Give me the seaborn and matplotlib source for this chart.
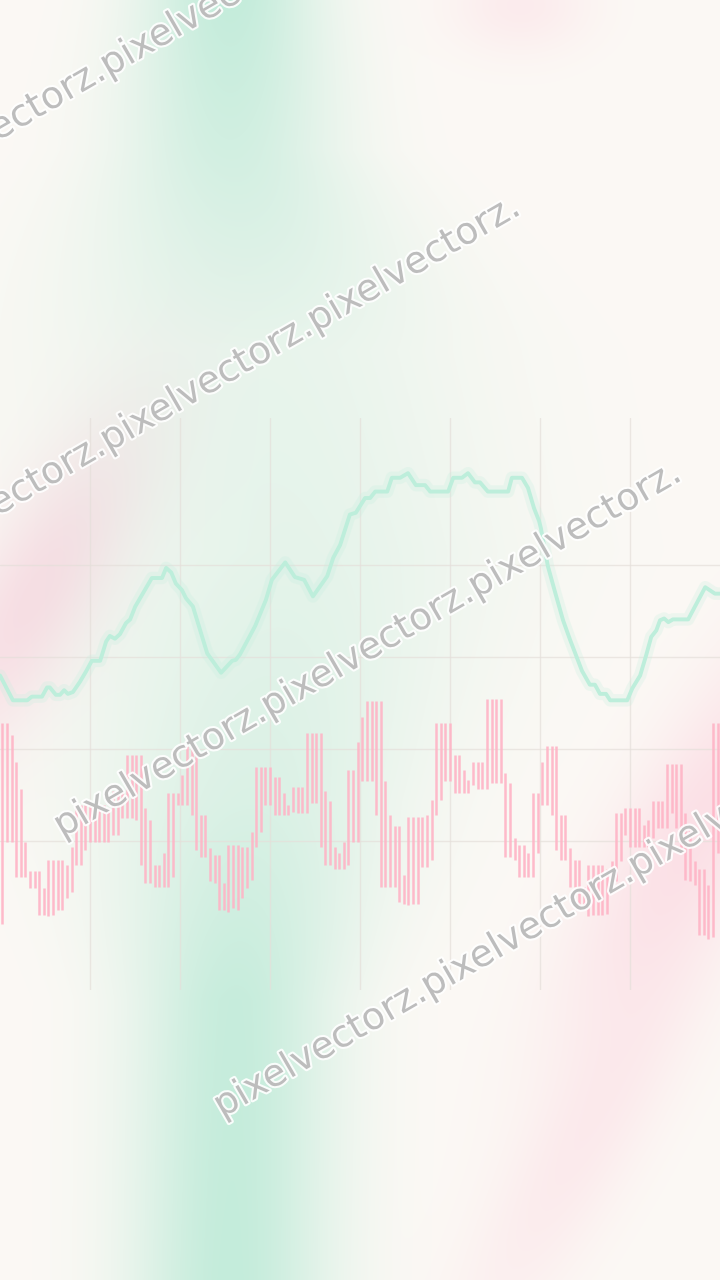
import numpy as np
import matplotlib
matplotlib.use('Agg')
import matplotlib.pyplot as plt
import matplotlib.patheffects as pe
import seaborn as sns

# candle ranges (156 candles)
candle_high = [32.8, 32.8, 31.5, 28.6, 25.7, 19.9, 16.7, 16.7, 16.7, 14.9,
               17.9, 17.9, 17.9, 17.9, 17.4, 19.4, 23.9, 23.9, 23.9, 23.9,
               23.9, 23.9, 23.9, 23.6, 25.4, 25.4, 25.4, 29.4, 29.4, 29.4,
               29.4, 23.6, 22.3, 17.4, 17.4, 18.7, 25.2, 25.2, 25.2,
               27.2, 30.3, 30.3, 30.3, 22.8, 22.8, 19.2, 18.5, 18.5, 15.4,
               19.6, 19.6, 19.6, 19.4, 19.4, 21.0, 28.1, 28.1, 28.1, 28.1,
               27.0, 27.0, 25.2, 23.9, 25.9, 25.9, 25.9, 31.7, 31.7, 31.7,
               31.7, 25.4, 24.3, 19.4, 18.7, 19.9, 27.7, 27.7, 30.8,
               33.5, 35.2, 35.2, 35.2, 35.2, 26.5, 22.8, 21.6, 21.6, 16.3,
               22.6, 22.6, 22.6, 22.6, 22.8, 24.5, 32.8, 32.8, 32.8, 32.8,
               29.4, 29.4, 27.7, 26.6, 28.6, 28.6, 28.6, 35.4, 35.4, 35.4,
               35.4, 27.4, 26.3, 20.3, 19.6, 19.6, 18.7, 25.2, 25.2,
               28.6, 30.3, 30.3, 30.3, 22.8, 22.8, 19.2, 17.9, 17.9, 15.0,
               17.4, 17.4, 17.4, 17.4, 17.0, 17.8, 23.0, 23.0, 23.6, 23.6,
               23.6, 23.6, 21.7, 22.3, 24.3, 24.3, 24.3, 28.4, 28.4, 28.4,
               28.4, 23.0, 21.7, 17.8, 17.0, 17.0, 15.2, 32.8, 32.8]
candle_low = [11.0, 19.9, 19.9, 16.1, 16.1, 16.1, 14.9, 14.9, 12.0, 12.0,
              11.8, 12.0, 12.5, 12.5, 13.8, 14.5, 17.4, 17.4, 19.0, 19.9,
              19.9, 19.9, 19.9, 19.9, 20.7, 20.7, 22.5, 22.5, 22.5, 22.3,
              17.4, 15.4, 15.4, 15.0, 15.0, 15.0, 15.0, 16.1, 23.9,
              23.9, 23.9, 22.8, 19.0, 18.3, 18.3, 15.6, 15.4, 12.5, 12.5,
              12.3, 12.7, 12.5, 13.8, 14.9, 15.8, 19.4, 21.0, 23.9, 23.9,
              22.8, 22.8, 22.8, 22.8, 23.2, 23.0, 23.0, 23.0, 24.1, 24.1,
              19.4, 17.4, 17.4, 17.0, 17.0, 17.0, 17.4, 19.9, 19.9,
              26.5, 26.5, 26.5, 22.8, 15.0, 15.0, 15.0, 15.0, 13.4, 13.2,
              13.0, 13.2, 13.2, 17.2, 17.2, 17.9, 22.8, 24.5, 26.5, 26.5,
              25.2, 25.2, 25.2, 25.2, 26.1, 25.7, 25.7, 25.7, 26.3, 26.3,
              26.3, 18.3, 18.3, 17.9, 16.1, 16.1, 16.1, 16.1, 18.7,
              23.9, 23.9, 22.8, 19.0, 17.9, 17.9, 15.0, 15.0, 12.7, 12.7,
              11.8, 12.0, 12.0, 12.0, 12.1, 15.6, 15.6, 17.8, 20.7, 19.4,
              19.4, 19.4, 19.4, 19.4, 20.3, 21.4, 21.4, 21.4, 23.0, 21.4,
              18.7, 15.8, 15.6, 15.2, 9.8, 9.8, 9.4, 9.6, 18.7]

# smoothed line
line_t = [0.0, 2.8, 5.9, 6.9, 9.1, 10.2, 10.8, 12.1, 13.0, 13.9, 14.7, 15.8,
          17.3, 18.6, 19.9, 21.7, 23.0, 23.8, 24.9, 26.0, 27.3, 28.2, 29.3,
          32.9, 35.1, 36.0, 37.1, 38.1, 39.4, 40.3, 41.8, 44.9, 47.9, 50.3,
          51.1, 52.0, 53.5, 55.3, 57.6, 58.9, 61.8, 63.9, 65.9, 67.8, 70.9,
          72.2, 73.7, 75.8, 77.1, 79.1, 80.2, 81.3, 83.9, 84.9, 86.7, 88.4,
          90.1, 92.1, 93.2, 97.1, 98.2, 100.1, 101.4, 102.9, 104.0, 105.7,
          110.1, 110.9, 113.1, 114.4, 115.7, 116.8, 117.2, 118.7, 120.3,
          122.0, 123.5, 126.1, 127.8, 128.9, 130.0, 131.3, 132.2, 135.9,
          137.0, 138.7, 140.0, 141.1, 142.2, 143.0, 143.9, 144.8, 145.8,
          149.1, 151.0, 152.8, 154.9, 156.0]
line_v = [38.0, 35.3, 35.3, 35.7, 35.7, 36.7, 36.7, 35.9, 35.9, 36.4, 36.0,
          36.2, 37.3, 38.4, 39.6, 39.6, 41.7, 42.3, 42.0, 42.5, 43.7, 44.1,
          45.5, 48.6, 48.6, 49.7, 49.2, 48.0, 47.3, 46.4, 45.5, 40.4, 38.3,
          39.6, 39.7, 40.3, 41.7, 43.4, 46.2, 48.4, 50.3, 48.7, 48.4, 46.6,
          48.8, 50.8, 52.2, 55.5, 55.7, 57.3, 57.3, 58.0, 58.0, 59.5, 59.5,
          60.0, 58.7, 58.7, 58.0, 58.0, 59.5, 59.5, 60.0, 59.0, 59.0, 58.0,
          58.0, 59.5, 59.5, 58.4, 56.2, 54.8, 54.0, 49.9, 47.0, 44.0, 41.9,
          38.5, 37.0, 37.0, 36.0, 36.0, 35.3, 35.3, 36.6, 38.0, 40.2, 42.2,
          42.9, 44.0, 44.2, 43.8, 44.1, 44.1, 45.9, 47.6, 46.9, 46.9]

sns.set_theme(style="white")

fig = plt.figure(figsize=(7.2, 12.8), dpi=100)

# soft blurred background
H, W = 1280, 720
yy, xx = np.mgrid[0:H, 0:W].astype(float)
base = np.array([252, 249, 245]) / 255
green = np.array([196, 236, 219]) / 255
pink = np.array([251, 222, 229]) / 255

rows = yy[:, 0]
ctrl = [0, 150, 350, 550, 800, 1000, 1280]
amp = np.interp(rows, ctrl, [1.0, 0.75, 0.35, 0.4, 0.6, 0.95, 1.0])[:, None]
cen = np.interp(rows, ctrl, [230, 230, 260, 290, 250, 235, 230])[:, None]
sig = np.interp(rows, ctrl, [65, 80, 150, 150, 110, 72, 70])[:, None]
wg = amp * np.exp(-0.5 * ((xx - cen) / sig) ** 2)


def blob(x0, y0, sa, sb, ang, a):
    th = np.deg2rad(ang)
    u = (xx - x0) * np.cos(th) + (yy - y0) * np.sin(th)
    v = -(xx - x0) * np.sin(th) + (yy - y0) * np.cos(th)
    return a * np.exp(-0.5 * ((u / sa) ** 2 + (v / sb) ** 2))


wp = (blob(30, 600, 140, 45, -60, 0.95) + blob(700, 820, 170, 50, -60, 0.9)
      + blob(580, 1150, 170, 40, -60, 0.5) + blob(520, 5, 50, 35, 0, 0.5))
wp = np.clip(wp, 0, 1)
wg = np.clip(wg, 0, 1)
img = base + wg[..., None] * (green - base) + wp[..., None] * (pink - base)
img = np.clip(img, 0, 1)

bg = fig.add_axes([0, 0, 1, 1], zorder=0)
bg.imshow(img, aspect='auto', interpolation='bilinear')
bg.axis('off')

# main chart
ax = fig.add_axes([0, 290 / 1280, 1, 572 / 1280], zorder=1)
ax.patch.set_alpha(0)

x_candles = np.arange(len(candle_high)) + 0.5
ax.vlines(x_candles, candle_low, candle_high, colors='#ffb4c6', linewidth=1.8, alpha=0.9, zorder=3)

sns.lineplot(x=line_t, y=line_v, sort=False, color='#c4efdf', linewidth=9, alpha=0.25, ax=ax, zorder=4)
sns.lineplot(x=line_t, y=line_v, sort=False, color='#bdeedb', linewidth=2.8, ax=ax, zorder=5)

ax.set_xlim(0, 156)
ax.set_ylim(3.8, 66.0)
ax.set_xticks(np.arange(19.5, 156, 19.5))
ax.set_yticks([20, 30, 40, 50])
ax.grid(True, color='#e5dfda', linewidth=1.0, alpha=0.7, zorder=1)
ax.tick_params(left=False, bottom=False, labelleft=False, labelbottom=False)
for s in ax.spines.values():
    s.set_visible(False)
ax.set_xlabel('')
ax.set_ylabel('')

# watermark
mark = 'pixelvectorz.' * 3
starts = [(-99, 197), (-99, 572), (62, 838), (222, 1118)]
for sx, sy in starts:
    fig.text(sx / W, 1 - sy / H, mark, rotation=30, rotation_mode='anchor',
             ha='left', va='baseline', fontsize=27, color='#bdbdbd', zorder=10,
             family='DejaVu Sans',
             path_effects=[pe.withStroke(linewidth=3, foreground='white', alpha=0.9)])

fig.savefig('out.png', dpi=100)
